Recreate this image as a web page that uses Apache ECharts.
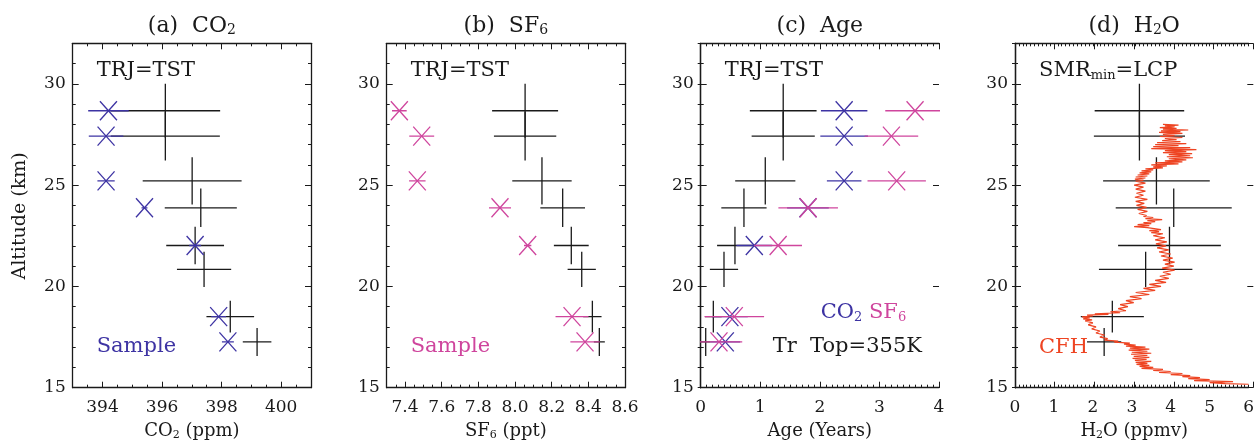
<!DOCTYPE html>
<html><head><meta charset="utf-8">
<script src="https://cdn.jsdelivr.net/npm/echarts@6/dist/echarts.min.js"></script>
<style>html,body{margin:0;padding:0;background:#fff}#c{width:1257px;height:444px}</style>
</head><body><div id="c"></div>
<script>
// ---------- data ----------
const altitude    = [28.67, 27.42, 25.21, 23.88, 22.02, 20.84, 18.51, 17.26];
const altitudeErr = [1.33, 1.20, 1.17, 0.95, 0.93, 0.87, 0.78, 0.69];

const co2Trj       = [396.11, 396.11, 397.01, 397.30, 397.11, 397.41, 398.29, 399.19];
const co2TrjErr    = [1.84, 1.83, 1.66, 1.21, 0.97, 0.91, 0.80, 0.48];
const co2Sample    = [394.20, 394.12, 394.12, 395.41, 397.11, null, 397.90, 398.21];
const co2SampleErr = [0.68, 0.58, 0.29, 0.10, 0.20, null, 0.25, 0.20];

const sf6Trj       = [8.055, 8.055, 8.147, 8.260, 8.307, 8.364, 8.422, 8.460];
const sf6TrjErr    = [0.180, 0.170, 0.162, 0.122, 0.095, 0.077, 0.050, 0.030];
const sf6Sample    = [7.369, 7.491, 7.467, 7.918, 8.069, null, 8.311, 8.382];
const sf6SampleErr = [0.040, 0.068, 0.045, 0.060, 0.020, null, 0.090, 0.080];

const ageTrj    = [1.385, 1.385, 1.084, 0.726, 0.575, 0.391, 0.212, 0.084];
const ageTrjErr = [0.56, 0.53, 0.505, 0.38, 0.30, 0.237, 0.14, 0.08];
const ageCo2    = [2.408, 2.408, 2.408, 1.80, 0.90, null, 0.49, 0.413];
const ageCo2Err = [0.39, 0.40, 0.29, 0.35, 0.30, null, 0.30, 0.25];
const ageSf6    = [3.598, 3.201, 3.290, 1.804, 1.30, null, 0.564, 0.307];
const ageSf6Err = [0.50, 0.45, 0.49, 0.50, 0.40, null, 0.50, 0.39];

const h2oTrj    = [3.196, 3.196, 3.633, 4.077, 3.968, 3.356, 2.50, 2.29];
const h2oTrjErr = [1.15, 1.17, 1.37, 1.49, 1.32, 1.20, 0.81, 0.44];

const cfhAlt = [28.00,27.96,27.92,27.88,27.84,27.80,27.76,27.72,27.68,27.64,
27.60,27.55,27.50,27.45,27.40,27.35,27.30,27.25,27.20,27.15,
27.10,27.05,27.00,26.95,26.90,26.85,26.80,26.75,26.70,26.65,
26.60,26.55,26.50,26.45,26.40,26.35,26.30,26.25,26.20,26.15,
26.10,26.05,26.00,25.95,25.90,25.85,25.80,25.75,25.70,25.65,
25.60,25.55,25.50,25.45,25.40,25.35,25.30,25.25,25.20,25.10,
25.00,24.90,24.80,24.70,24.60,24.50,24.40,24.30,24.20,24.10,
24.00,23.90,23.80,23.70,23.60,23.50,23.45,23.40,23.35,23.30,
23.25,23.20,23.15,23.10,23.05,23.00,22.95,22.90,22.85,22.80,
22.75,22.70,22.65,22.60,22.50,22.40,22.30,22.20,22.10,22.00,
21.90,21.80,21.70,21.60,21.50,21.40,21.30,21.20,21.10,21.00,
20.90,20.80,20.70,20.60,20.50,20.40,20.30,20.20,20.10,20.00,
19.90,19.80,19.70,19.60,19.50,19.40,19.30,19.20,19.10,19.00,
18.90,18.80,18.75,18.70,18.65,18.62,18.58,18.54,18.50,18.45,
18.40,18.35,18.30,18.20,18.10,18.00,17.90,17.80,17.70,17.60,
17.50,17.42,17.35,17.30,17.25,17.20,17.15,17.10,17.05,17.00,
16.95,16.90,16.85,16.80,16.75,16.70,16.65,16.60,16.55,16.50,
16.45,16.40,16.35,16.30,16.25,16.20,16.15,16.10,16.05,16.00,
15.95,15.90,15.85,15.80,15.75,15.70,15.65,15.60,15.55,15.50,
15.45,15.40,15.35,15.30,15.25,15.20,15.17];
const cfhH2O = [3.80,4.20,3.85,4.10,3.72,4.15,3.80,4.45,3.75,4.25,
3.70,4.30,3.80,4.10,3.72,4.30,3.85,4.15,3.78,4.25,
3.65,4.40,3.60,4.20,3.55,4.50,3.50,4.66,3.85,4.40,
3.80,4.55,3.95,4.50,3.90,4.57,3.95,4.40,3.85,4.30,
3.60,4.20,3.50,3.90,3.55,3.80,3.35,3.55,3.25,3.50,
3.20,3.45,3.15,3.40,3.10,3.35,3.08,3.30,3.10,3.35,
3.06,3.30,3.10,3.35,3.12,3.30,3.08,3.40,3.10,3.32,
3.12,3.38,3.15,3.40,3.18,3.38,3.30,3.55,3.35,3.78,
3.40,3.60,3.30,3.50,3.15,3.45,3.06,3.40,3.45,3.75,
3.45,3.70,3.50,3.80,3.55,3.85,3.60,3.90,3.62,3.88,
3.65,3.95,3.70,4.00,3.75,4.05,3.80,4.10,3.85,4.08,
3.78,4.10,3.80,4.00,3.72,3.95,3.60,3.88,3.45,3.75,
3.30,3.60,3.10,3.45,2.95,3.25,2.85,3.05,2.70,2.90,
2.65,2.85,2.45,2.70,2.05,2.40,1.85,2.00,1.72,1.92,
1.75,1.98,1.80,2.00,1.88,2.08,1.97,2.18,2.08,2.30,
2.18,2.38,2.30,2.65,2.55,2.95,2.80,3.10,2.85,3.35,
2.95,3.45,2.92,3.40,3.00,3.50,2.98,3.40,3.05,3.45,
3.02,3.38,3.08,3.50,3.10,3.40,3.12,3.45,3.20,3.55,
3.25,3.80,3.55,4.00,3.70,4.30,4.00,4.50,4.30,4.75,
4.45,5.00,4.60,5.60,5.00,5.40,6.00];

// ---------- styling / layout ----------
const FONT = 'DejaVu Serif';
const BLACK = '#1a1a1a', BLUE = '#3d33a3', PINK = '#cf459d', RED = '#ee4422';
const TOP = 43.3, W = 238.3, H = 344.4, YMIN = 15, YMAX = 32;
const panels = [
  {left: 72.7,  xmin: 393, xmax: 401, minor: 0.5,  major: 2,   first: 394, dec: 0},
  {left: 386.7, xmin: 7.3, xmax: 8.6, minor: 0.05, major: 0.2, first: 7.4, dec: 1},
  {left: 700.7, xmin: 0,   xmax: 4,   minor: 0.1,  major: 1,   first: 0,   dec: 0},
  {left: 1015,  xmin: 0,   xmax: 6,   minor: 0.1,  major: 1,   first: 0,   dec: 0}
];

const grids = [], xAxes = [], yAxes = [], series = [];
const tickStyle = {color: BLACK, width: 1};
function isMajor(v, first, step) {
  const k = (v - first) / step;
  return v >= first - 1e-9 && Math.abs(k - Math.round(k)) < 1e-6;
}
const mainIdx = [];
panels.forEach((p, i) => {
  // main grid
  grids.push({left: p.left, top: TOP, width: W, height: H});
  let g = grids.length - 1;
  const xi = xAxes.length, yi = yAxes.length;
  xAxes.push({gridIndex: g, type: 'value', position: 'bottom', min: p.xmin, max: p.xmax, interval: p.minor,
    axisLine: {show: true, lineStyle: {color: BLACK, width: 1.3}},
    axisTick: {show: true, inside: true, length: 3, lineStyle: tickStyle},
    splitLine: {show: false},
    axisLabel: {show: true, color: BLACK, fontFamily: FONT, fontSize: 17, margin: 11, showMinLabel: true, showMaxLabel: true,
      formatter: v => isMajor(v, p.first, p.major) ? v.toFixed(p.dec) : ''}});
  xAxes.push({gridIndex: g, type: 'value', position: 'top', min: p.xmin, max: p.xmax, interval: p.minor,
    axisLine: {show: true, lineStyle: {color: BLACK, width: 1.3}},
    axisTick: {show: true, inside: true, length: 3, lineStyle: tickStyle},
    splitLine: {show: false}, axisLabel: {show: false}});
  yAxes.push({gridIndex: g, type: 'value', position: 'left', min: YMIN, max: YMAX, interval: 1,
    axisLine: {show: true, lineStyle: {color: BLACK, width: 1.3}},
    axisTick: {show: true, inside: true, length: 3, lineStyle: tickStyle},
    splitLine: {show: false},
    axisLabel: {show: true, color: BLACK, fontFamily: FONT, fontSize: 17, margin: 7,
      formatter: v => (v % 5 === 0 ? String(v) : '')}});
  yAxes.push({gridIndex: g, type: 'value', position: 'right', min: YMIN, max: YMAX, interval: 1,
    axisLine: {show: true, lineStyle: {color: BLACK, width: 1.3}},
    axisTick: {show: true, inside: true, length: 3, lineStyle: tickStyle},
    splitLine: {show: false}, axisLabel: {show: false}});
  mainIdx.push({x: xi, y: yi});

  // overlay grid for y major ticks
  grids.push({left: p.left, top: TOP, width: W, height: H});
  g = grids.length - 1;
  xAxes.push({gridIndex: g, type: 'value', show: false, min: 0, max: 1});
  ['left', 'right'].forEach(pos => yAxes.push({gridIndex: g, type: 'value', position: pos, min: YMIN, max: YMAX, interval: 5,
    axisLine: {show: false}, axisTick: {show: true, inside: true, length: 6, lineStyle: tickStyle},
    splitLine: {show: false}, axisLabel: {show: false}}));

  // overlay grid for x major ticks (starts at first major value)
  const pxPer = W / (p.xmax - p.xmin);
  const off = (p.first - p.xmin) * pxPer;
  grids.push({left: p.left + off, top: TOP, width: W - off, height: H});
  g = grids.length - 1;
  yAxes.push({gridIndex: g, type: 'value', show: false, min: 0, max: 1});
  ['bottom', 'top'].forEach(pos => xAxes.push({gridIndex: g, type: 'value', position: pos, min: p.first, max: p.xmax, interval: p.major,
    axisLine: {show: false}, axisTick: {show: true, inside: true, length: 6, lineStyle: tickStyle},
    splitLine: {show: false}, axisLabel: {show: false}}));
});

function crossData(xs, xe) {
  const out = [];
  xs.forEach((x, k) => { if (x != null) out.push([x, altitude[k], xe[k], altitudeErr[k]]); });
  return out;
}
function sampleData(xs, xe) {
  const out = [];
  xs.forEach((x, k) => { if (x != null) out.push([x, altitude[k], xe[k]]); });
  return out;
}
function lineEl(a, b, color, w) {
  return {type: 'line', shape: {x1: a[0], y1: a[1], x2: b[0], y2: b[1]}, style: {stroke: color, lineWidth: w}};
}
function crossSeries(panel, xs, xe, color) {
  return {type: 'custom', xAxisIndex: mainIdx[panel].x, yAxisIndex: mainIdx[panel].y, clip: true,
    encode: {x: 0, y: 1}, data: crossData(xs, xe),
    renderItem: (params, api) => {
      const x = api.value(0), y = api.value(1), ex = api.value(2), ey = api.value(3);
      return {type: 'group', children: [
        lineEl(api.coord([x - ex, y]), api.coord([x + ex, y]), color, 1.3),
        lineEl(api.coord([x, y + ey]), api.coord([x, y - ey]), color, 1.3)
      ]};
    }};
}
function sampleSeries(panel, xs, xe, color) {
  return {type: 'custom', xAxisIndex: mainIdx[panel].x, yAxisIndex: mainIdx[panel].y, clip: true,
    encode: {x: 0, y: 1}, data: sampleData(xs, xe),
    renderItem: (params, api) => {
      const x = api.value(0), y = api.value(1), ex = api.value(2);
      const c = api.coord([x, y]);
      const sx = 8.5, sy = 9.5;
      return {type: 'group', children: [
        lineEl(api.coord([x - ex, y]), api.coord([x + ex, y]), color, 1.3),
        lineEl([c[0] - sx, c[1] - sy], [c[0] + sx, c[1] + sy], color, 1.3),
        lineEl([c[0] - sx, c[1] + sy], [c[0] + sx, c[1] - sy], color, 1.3)
      ]};
    }};
}

// CFH profile
series.push({type: 'line', xAxisIndex: mainIdx[3].x, yAxisIndex: mainIdx[3].y, clip: true,
  data: cfhAlt.map((a, k) => [cfhH2O[k], a]), showSymbol: false, symbol: 'none',
  lineStyle: {color: RED, width: 1.2}, animation: false});

series.push(crossSeries(0, co2Trj, co2TrjErr, BLACK));
series.push(sampleSeries(0, co2Sample, co2SampleErr, BLUE));
series.push(crossSeries(1, sf6Trj, sf6TrjErr, BLACK));
series.push(sampleSeries(1, sf6Sample, sf6SampleErr, PINK));
series.push(crossSeries(2, ageTrj, ageTrjErr, BLACK));
series.push(sampleSeries(2, ageCo2, ageCo2Err, BLUE));
series.push(sampleSeries(2, ageSf6, ageSf6Err, PINK));
series.push(crossSeries(3, h2oTrj, h2oTrjErr, BLACK));

// ---------- texts ----------
function richText(x, y, text, size, color, align, extra) {
  const subSize = Math.round(size * 0.62);
  return Object.assign({type: 'text', x: x, y: y, silent: true, style: {
    text: text, fill: color, fontFamily: FONT, fontSize: size,
    align: align, verticalAlign: 'middle', textAlign: align, textVerticalAlign: 'middle',
    rich: {
      m: {fontFamily: FONT, fontSize: size, fill: color, color: color},
      s: {fontFamily: FONT, fontSize: subSize, fill: color, color: color, padding: [Math.round(size * 0.42), 0, 0, 0]},
      b: {fontFamily: FONT, fontSize: size, fill: BLUE, color: BLUE},
      bs: {fontFamily: FONT, fontSize: subSize, fill: BLUE, color: BLUE, padding: [Math.round(size * 0.42), 0, 0, 0]},
      p: {fontFamily: FONT, fontSize: size, fill: PINK, color: PINK},
      ps: {fontFamily: FONT, fontSize: subSize, fill: PINK, color: PINK, padding: [Math.round(size * 0.42), 0, 0, 0]}
    }}}, extra || {});
}
const cx = panels.map(p => p.left + W / 2);
const titles = ['{m|(a)  CO}{s|2}', '{m|(b)  SF}{s|6}', '{m|(c)  Age}', '{m|(d)  H}{s|2}{m|O}'];
const xNames = ['{m|CO}{s|2}{m| (ppm)}', '{m|SF}{s|6}{m| (ppt)}', '{m|Age (Years)}', '{m|H}{s|2}{m|O (ppmv)}'];
const graphics = [];
titles.forEach((t, i) => graphics.push(richText(cx[i], 26, t, 22, BLACK, 'center')));
xNames.forEach((t, i) => graphics.push(richText(cx[i], 431, t, 18, BLACK, 'center')));
graphics.push(richText(20, 216, '{m|Altitude (km)}', 19, BLACK, 'center', {rotation: Math.PI / 2}));
[0, 1, 2].forEach(i => graphics.push(richText(panels[i].left + 24, 71, '{m|TRJ=TST}', 21, BLACK, 'left')));
graphics.push(richText(panels[3].left + 24, 71, '{m|SMR}{s|min}{m|=LCP}', 21, BLACK, 'left'));
graphics.push(richText(panels[0].left + 24, 347, '{m|Sample}', 21, BLUE, 'left'));
graphics.push(richText(panels[1].left + 24, 347, '{m|Sample}', 21, PINK, 'left'));
graphics.push(richText(panels[2].left + 120, 313, '{b|CO}{bs|2}{b| }{p|SF}{ps|6}', 21, BLUE, 'left'));
graphics.push(richText(panels[2].left + 72, 347, '{m|Tr  Top=355K}', 21, BLACK, 'left'));
graphics.push(richText(panels[3].left + 24, 348, '{m|CFH}', 21, RED, 'left'));

const chart = echarts.init(document.getElementById('c'), null, {renderer: 'canvas'});
chart.setOption({
  animation: false,
  backgroundColor: '#fff',
  grid: grids, xAxis: xAxes, yAxis: yAxes, series: series, graphic: graphics
});
</script></body></html>
